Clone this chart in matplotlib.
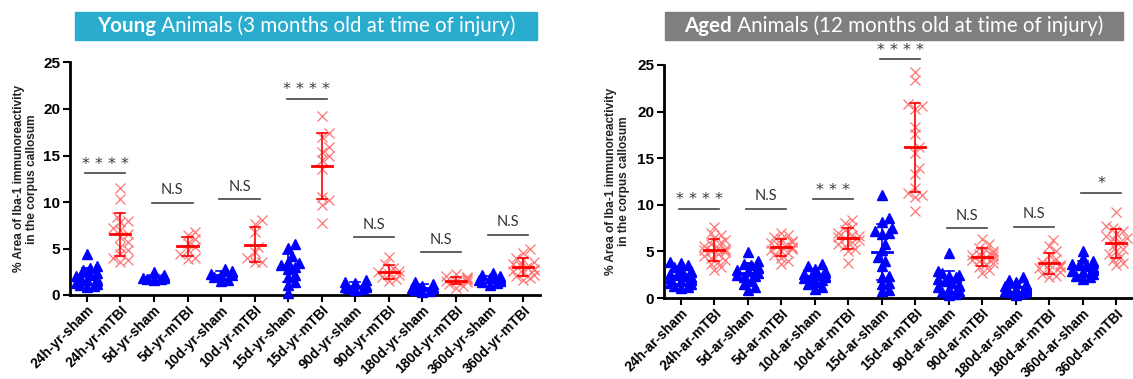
import numpy as np
import matplotlib
matplotlib.use("Agg")
import matplotlib.pyplot as plt
from matplotlib.patches import Rectangle

# ---- data: young animals (3 months) ----
young_labels = ["24h-yr-sham", "24h-yr-mTBI", "5d-yr-sham", "5d-yr-mTBI", "10d-yr-sham", "10d-yr-mTBI",
                "15d-yr-sham", "15d-yr-mTBI", "90d-yr-sham", "90d-yr-mTBI", "180d-yr-sham", "180d-yr-mTBI",
                "360d-yr-sham", "360d-yr-mTBI"]
y_24h_sham = [4.4, 3.1, 2.9, 2.7, 2.4, 2.2, 2.0, 1.9, 1.7, 1.6, 1.5, 1.3, 1.2, 1.0, 0.9, 1.1]
y_24h_tbi = [11.5, 10.3, 8.4, 8.0, 7.8, 7.2, 7.0, 6.6, 6.2, 5.7, 5.2, 4.8, 4.4, 4.0, 3.6, 3.8]
y_5d_sham = [2.5, 2.1, 2.0, 1.9, 1.8, 1.7, 1.7, 1.6, 1.8, 1.9]
y_5d_tbi = [6.8, 6.4, 6.0, 5.6, 5.2, 4.8, 4.4, 4.0, 3.9]
y_10d_sham = [2.8, 2.6, 2.5, 2.3, 2.2, 2.1, 1.9, 1.6, 1.5]
y_10d_tbi = [8.1, 7.6, 6.8, 5.2, 4.6, 4.0, 3.6, 3.5]
y_15d_sham = [5.5, 5.1, 4.2, 3.6, 3.4, 3.2, 3.0, 2.8, 2.2, 1.9, 1.4, 1.1, 0.2]
y_15d_tbi = [19.3, 17.4, 17.0, 15.9, 15.4, 15.0, 14.5, 13.5, 10.5, 10.2, 9.7, 7.7]
y_90d_sham = [1.6, 1.4, 1.3, 1.1, 1.0, 0.9, 0.8, 0.6, 0.5, 0.9]
y_90d_tbi = [4.1, 3.3, 2.9, 2.6, 2.5, 2.3, 2.1, 1.9, 1.7, 1.5]
y_180d_sham = [1.4, 1.2, 1.0, 0.8, 0.7, 0.5, 0.3, 0.4, 0.9]
y_180d_tbi = [2.3, 2.0, 1.8, 1.7, 1.6, 1.5, 1.4, 1.2, 1.0, 0.8, 1.9, 1.5]
y_360d_sham = [2.4, 2.2, 2.0, 1.8, 1.7, 1.6, 1.5, 1.3, 1.1, 1.9, 1.6, 1.4]
y_360d_tbi = [5.0, 4.5, 4.0, 3.8, 3.5, 3.2, 3.0, 2.8, 2.6, 2.4, 2.2, 2.0, 1.8, 1.6, 3.3, 2.7]
young_sig = ["****", "N.S", "N.S", "****", "N.S", "N.S", "N.S"]
young_sig_y = [13.1, 9.9, 10.3, 21.1, 6.2, 4.6, 6.5]

# ---- data: aged animals (12 months) ----
aged_labels = ["24h-ar-sham", "24h-ar-mTBI", "5d-ar-sham", "5d-ar-mTBI", "10d-ar-sham", "10d-ar-mTBI",
               "15d-ar-sham", "15d-ar-mTBI", "90d-ar-sham", "90d-ar-mTBI", "180d-ar-sham", "180d-ar-mTBI",
               "360d-ar-sham", "360d-ar-mTBI"]
a_24h_sham = [3.9, 3.8, 3.5, 3.3, 3.1, 2.9, 2.8, 2.6, 2.5, 2.4, 2.3, 2.2, 2.1, 2.0, 1.9, 1.8, 1.6, 1.5, 1.3, 1.2, 1.1]
a_24h_tbi = [7.6, 7.0, 6.8, 6.4, 6.2, 6.0, 5.8, 5.6, 5.4, 5.2, 5.0, 4.9, 4.7, 4.5, 4.3, 4.1, 3.9, 3.6, 3.3, 3.0, 5.1, 5.3]
a_5d_sham = [4.9, 4.0, 3.7, 3.5, 3.2, 3.0, 2.9, 2.7, 2.5, 2.2, 1.8, 1.5, 1.2, 0.9, 3.3, 2.4]
a_5d_tbi = [7.0, 6.8, 6.5, 6.3, 6.1, 5.9, 5.7, 5.5, 5.4, 5.3, 5.2, 5.0, 4.8, 4.6, 4.3, 4.0, 3.6, 6.0, 5.6]
a_10d_sham = [3.6, 3.4, 3.1, 2.9, 2.7, 2.5, 2.4, 2.3, 2.2, 2.1, 1.9, 1.7, 1.5, 1.2, 1.0, 2.6]
a_10d_tbi = [8.4, 8.0, 7.6, 7.3, 7.0, 6.8, 6.6, 6.4, 6.2, 6.0, 5.8, 5.6, 5.3, 5.0, 3.8, 6.5]
a_15d_sham = [11.0, 8.6, 8.2, 7.5, 7.2, 7.0, 6.9, 5.2, 5.8, 4.0, 4.4, 3.4, 2.4, 2.3, 1.6, 1.5, 0.9, 0.8]
a_15d_tbi = [24.3, 23.4, 20.8, 20.6, 20.3, 18.4, 17.6, 16.2, 15.6, 13.9, 13.3, 11.8, 11.3, 11.0, 10.8, 9.3]
a_90d_sham = [4.8, 2.9, 2.7, 2.4, 2.2, 2.0, 1.8, 1.6, 1.4, 1.2, 1.0, 0.8, 0.6, 0.4, 0.3, 2.5, 1.3]
a_90d_tbi = [6.3, 5.8, 5.4, 5.2, 5.0, 4.8, 4.6, 4.5, 4.4, 4.2, 4.0, 3.8, 3.6, 3.3, 3.0, 2.7, 4.7, 4.1]
a_180d_sham = [2.2, 1.9, 1.7, 1.5, 1.4, 1.3, 1.2, 1.1, 1.0, 0.9, 0.8, 0.7, 0.6, 0.5, 0.3, 1.2, 1.0]
a_180d_tbi = [6.2, 5.6, 5.0, 4.6, 4.2, 3.9, 3.7, 3.5, 3.4, 3.2, 3.0, 2.8, 2.6, 2.4, 2.2, 3.3]
a_360d_sham = [5.0, 4.3, 4.0, 3.8, 3.6, 3.4, 3.3, 3.2, 3.1, 3.0, 2.9, 2.8, 2.6, 2.4, 2.2, 2.0, 3.5]
a_360d_tbi = [9.2, 7.7, 7.5, 7.2, 6.9, 6.6, 6.3, 6.0, 5.6, 5.3, 5.0, 4.7, 4.4, 4.1, 3.8, 3.5, 6.4]
aged_sig = ["****", "N.S", "***", "****", "N.S", "N.S", "*"]
aged_sig_y = [9.6, 9.6, 10.6, 25.6, 7.5, 7.65, 11.3]

young_groups = [y_24h_sham, y_24h_tbi, y_5d_sham, y_5d_tbi, y_10d_sham, y_10d_tbi, y_15d_sham, y_15d_tbi,
                y_90d_sham, y_90d_tbi, y_180d_sham, y_180d_tbi, y_360d_sham, y_360d_tbi]
aged_groups = [a_24h_sham, a_24h_tbi, a_5d_sham, a_5d_tbi, a_10d_sham, a_10d_tbi, a_15d_sham, a_15d_tbi,
               a_90d_sham, a_90d_tbi, a_180d_sham, a_180d_tbi, a_360d_sham, a_360d_tbi]

BLUE = "#0000ff"; RED = "#ff0000"; XRED = "#ff7575"; GRAY = "#444444"
W, H = 1133, 379


def swarm(vals, pxx=33.5, pxy=9.3, d=6.0):
    # simple beeswarm offsets (x data units)
    v = np.asarray(vals, float)
    off = np.zeros(len(v)); placed = []
    for i in np.argsort(v):
        best = 0.0
        for k in range(0, 12):
            cands = [0.0] if k == 0 else [k * d * 0.6, -k * d * 0.6]
            ok = None
            for c in cands:
                if all(np.hypot(c - px, (v[i] - py) * pxy) >= d for px, py in placed):
                    ok = c; break
            if ok is not None:
                best = ok; break
        best = max(min(best, 10.5), -10.5)
        placed.append((best, v[i])); off[i] = best / pxx
    return off


def panel(ax, groups, labels, sig, sig_y, lab_x):
    for i, g in enumerate(groups):
        g = np.asarray(g, float)
        xo = i + swarm(g)
        sham = i % 2 == 0
        if sham:
            ax.plot(xo, g, ls='none', marker='^', ms=6.5, color=BLUE, mec=BLUE, zorder=3, clip_on=False)
            c = BLUE
        else:
            ax.plot(xo, g, ls='none', marker='x', ms=7, mew=0.9, color=XRED, zorder=3, clip_on=False)
            c = RED
        m = g.mean(); s = g.std(ddof=1)
        ax.plot([i - 0.3, i + 0.3], [m, m], color=c, lw=2, zorder=4)
        ax.plot([i, i], [m - s, m + s], color=c, lw=1.2, zorder=4)
        for e in (m - s, m + s):
            ax.plot([i - 0.15, i + 0.15], [e, e], color=c, lw=1.2, zorder=4)
    for k, (t, yv) in enumerate(zip(sig, sig_y)):
        a = 2 * k
        ax.plot([a - 0.05, a + 1.15], [yv, yv], color=GRAY, lw=1.2, clip_on=False)
        if t == "N.S":
            ax.text(a + 0.55, yv + 0.6, t, ha='center', va='bottom', fontsize=10.5, family='Lato', color='#333333')
        else:
            ax.text(a + 0.55, yv + 0.15, " ".join(t), ha='center', va='bottom', fontsize=11.5,
                    family='DejaVu Sans', color='#3a3a3a', clip_on=False)
    ax.set_xlim(-0.5, 13.5); ax.set_ylim(0, 25)
    ax.set_yticks([0, 5, 10, 15, 20, 25])
    ax.set_xticks(range(len(labels)))
    ax.set_xticklabels(labels, rotation=45, ha='right', rotation_mode='anchor', fontsize=10,
                       fontweight='bold', family='Liberation Sans')
    for lb in ax.get_yticklabels():
        lb.set_fontsize(11); lb.set_fontweight('bold'); lb.set_family('Liberation Sans')
    for sp in ('top', 'right'):
        ax.spines[sp].set_visible(False)
    for sp in ('left', 'bottom'):
        ax.spines[sp].set_linewidth(2)
    ax.tick_params(length=5, width=1.5, pad=2)
    ax.tick_params(axis='x', pad=1)
    ax.set_ylabel("% Area of Iba-1 immunoreactivity\nin the corpus callosum", fontsize=8.6,
                  fontweight='bold', family='Liberation Sans', linespacing=1.15, color='#222222')
    ax.yaxis.set_label_coords(lab_x, 0.5)


fig = plt.figure(figsize=(W / 100, H / 100), dpi=100)
ax1 = fig.add_axes([70 / W, 1 - 295 / H, 470 / W, 232.5 / H])
ax2 = fig.add_axes([664 / W, 1 - 298 / H, 469 / W, 233 / H])
panel(ax1, young_groups, young_labels, young_sig, young_sig_y, -0.068)
panel(ax2, aged_groups, aged_labels, aged_sig, aged_sig_y, -0.072)


def banner(x0, x1, y0, y1, color, bold, rest):
    fig.patches.append(Rectangle((x0 / W, 1 - y1 / H), (x1 - x0) / W, (y1 - y0) / H,
                                 transform=fig.transFigure, color=color, zorder=0))
    yc = 1 - (y0 + y1) / 2 / H
    t1 = fig.text(0, yc, bold, fontsize=14.8, fontweight='bold', family='Lato', color='white', va='center')
    t2 = fig.text(0, yc, rest, fontsize=14.8, family='Lato', color='white', va='center')
    fig.canvas.draw()
    r = fig.canvas.get_renderer()
    w1 = t1.get_window_extent(r).width; w2 = t2.get_window_extent(r).width
    start = (x0 + x1) / 2 - (w1 + w2) / 2
    t1.set_x(start / W); t2.set_x((start + w1) / W)


banner(75, 537, 12, 40, "#2aaccf", "Young", " Animals (3 months old at time of injury)")
banner(665, 1123, 12, 40, "#7f7f7f", "Aged", " Animals (12 months old at time of injury)")

fig.savefig("out.png", dpi=100)
